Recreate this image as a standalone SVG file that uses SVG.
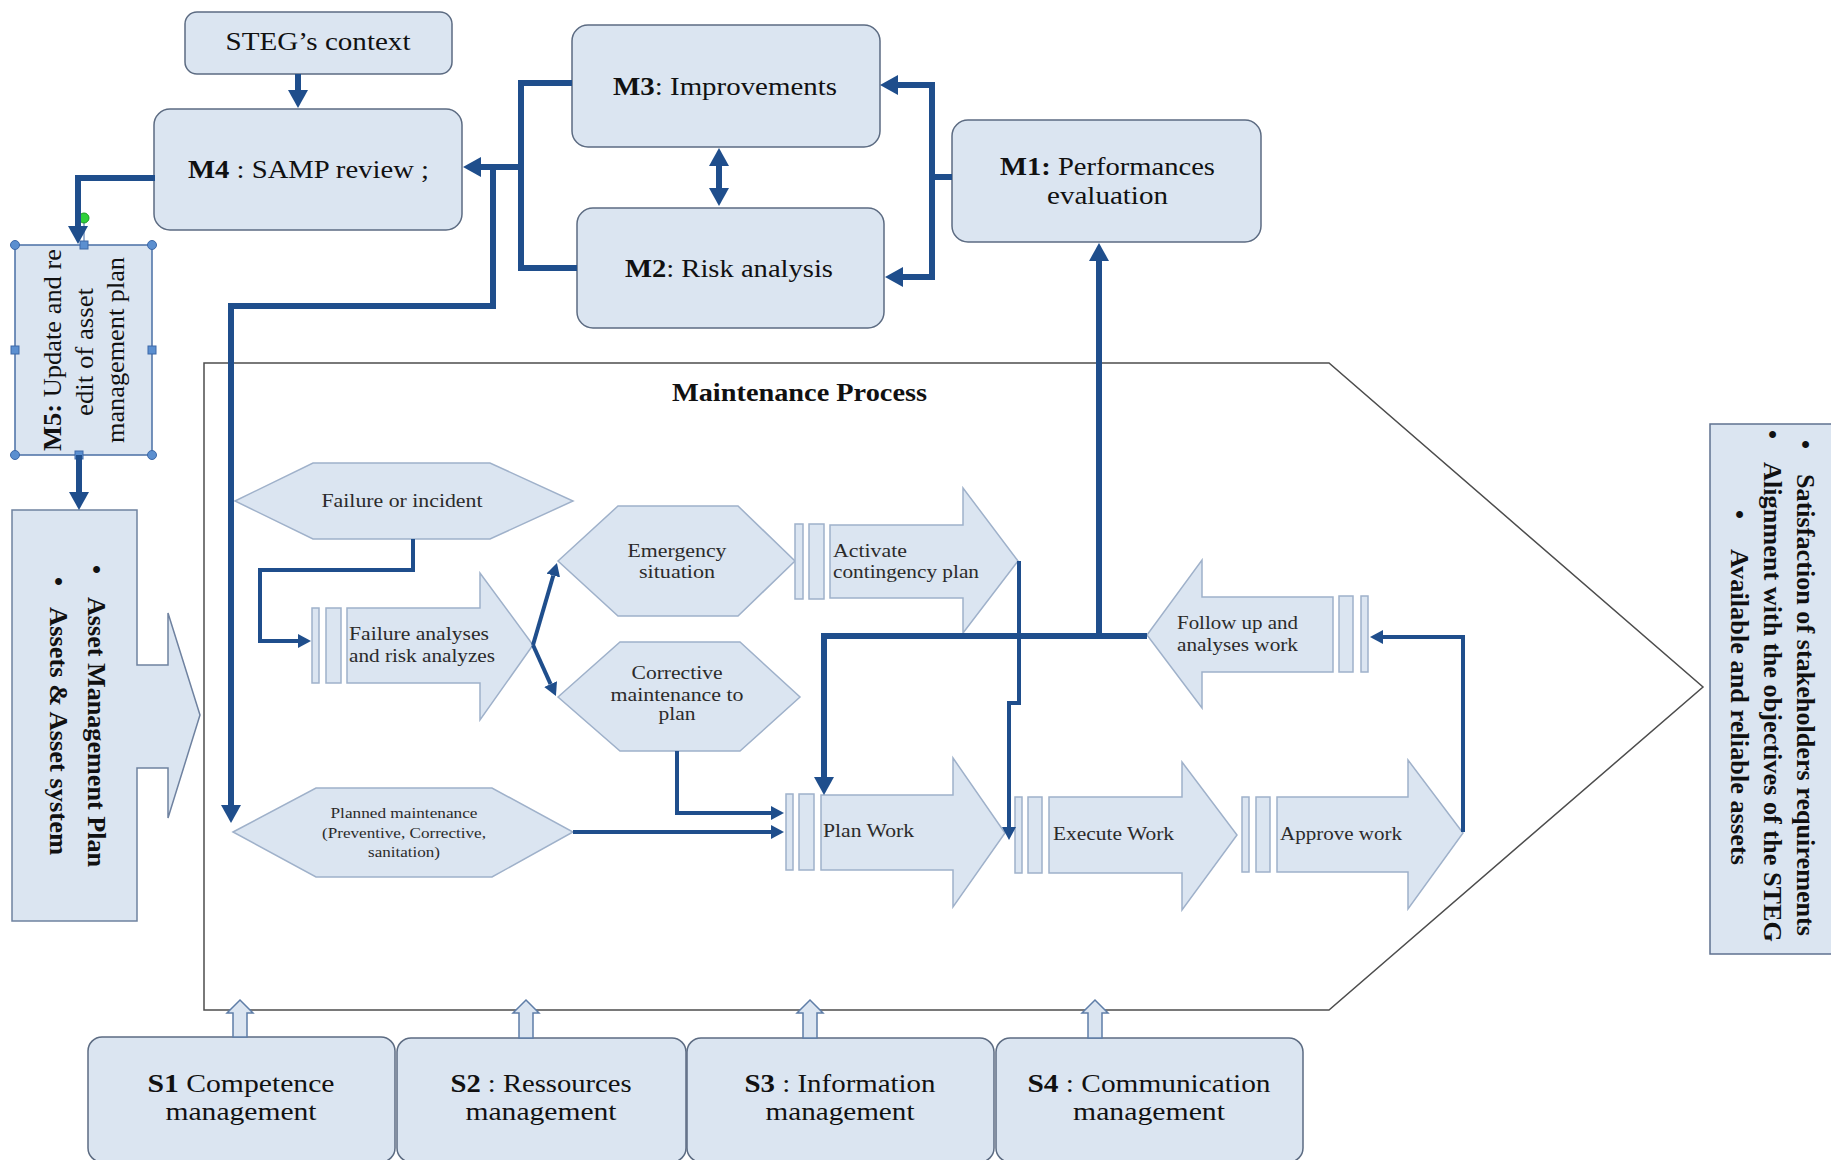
<svg xmlns="http://www.w3.org/2000/svg" width="1831" height="1160" viewBox="0 0 1831 1160">
  <style>
    .box { fill: #dbe5f1; stroke: #5c6b82; stroke-width: 1.5; }
    .shape { fill: #dbe5f1; stroke: #9fb1ca; stroke-width: 1.5; }
    .frame { fill: none; stroke: #4d4d4d; stroke-width: 1.5; }
    .c6 { fill: none; stroke: #1f4e8c; stroke-width: 6; }
    .c4 { fill: none; stroke: #1f4e8c; stroke-width: 4; }
    .t { font-family: 'Liberation Serif', 'Times New Roman', serif; font-size: 25px; fill: #111; }
    .tp { font-family: 'Liberation Serif', 'Times New Roman', serif; font-size: 19px; fill: #2b2b2b; }
    .ts { font-family: 'Liberation Serif', 'Times New Roman', serif; font-size: 15px; fill: #2b2b2b; }
    .tb { font-family: 'Liberation Serif', 'Times New Roman', serif; font-size: 26px; font-weight: bold; fill: #111; }
    .b { font-weight: bold; }
    .handle { fill: #5b8fd0; stroke: #3d68a8; stroke-width: 1; }
    .support { fill: #dbe5f1; stroke: #5f7ea8; stroke-width: 1.5; }
  </style>
  <defs>
    <marker id="ah6" markerUnits="userSpaceOnUse" markerWidth="18" markerHeight="20" viewBox="0 0 18 20" refX="0" refY="10" orient="auto-start-reverse">
      <path d="M0,0 L18,10 L0,20 Z" fill="#1f4e8c"/>
    </marker>
    <marker id="ah4" markerUnits="userSpaceOnUse" markerWidth="13" markerHeight="14" viewBox="0 0 13 14" refX="0" refY="7" orient="auto">
      <path d="M0,0 L13,7 L0,14 Z" fill="#1f4e8c"/>
    </marker>
  </defs>

  <rect width="1831" height="1160" fill="#fff"/>

  <!-- Maintenance process frame -->
  <g id="maintenance-process">
    <polygon class="frame" points="204,363 1329,363 1703,687 1329,1010 204,1010"/>
    <text class="tb" x="672" y="401" font-size="25" textLength="255" lengthAdjust="spacingAndGlyphs">Maintenance Process</text>
  </g>

  <!-- Management boxes -->
  <g id="node-steg-context">
    <rect class="box" x="185" y="12" width="267" height="62" rx="12"/>
    <text class="t" x="318" y="50" text-anchor="middle" textLength="185" lengthAdjust="spacingAndGlyphs">STEG’s context</text>
  </g>
  <g id="node-m4">
    <rect class="box" x="154" y="109" width="308" height="121" rx="16"/>
    <text class="t" x="188" y="178" textLength="241" lengthAdjust="spacingAndGlyphs"><tspan class="b">M4</tspan> : SAMP review ;</text>
  </g>
  <g id="node-m3">
    <rect class="box" x="572" y="25" width="308" height="122" rx="16"/>
    <text class="t" x="613" y="95" textLength="224" lengthAdjust="spacingAndGlyphs"><tspan class="b">M3</tspan>: Improvements</text>
  </g>
  <g id="node-m2">
    <rect class="box" x="577" y="208" width="307" height="120" rx="16"/>
    <text class="t" x="625" y="277" textLength="208" lengthAdjust="spacingAndGlyphs"><tspan class="b">M2</tspan>: Risk analysis</text>
  </g>
  <g id="node-m1">
    <rect class="box" x="952" y="120" width="309" height="122" rx="16"/>
    <text class="t" x="1000" y="175" textLength="215" lengthAdjust="spacingAndGlyphs"><tspan class="b">M1:</tspan> Performances</text>
    <text class="t" x="1047" y="204" textLength="121" lengthAdjust="spacingAndGlyphs">evaluation</text>
  </g>

  <!-- M5 text box with its selection handles -->
  <g id="node-m5">
    <rect x="15" y="245" width="137" height="210" fill="#dbe5f1" stroke="#4a6fa5" stroke-width="1.5"/>
    <g class="t" font-size="26">
      <text transform="translate(61,350) rotate(-90)" text-anchor="middle" textLength="202" lengthAdjust="spacingAndGlyphs"><tspan class="b">M5:</tspan> Update and re</text>
      <text transform="translate(93,352) rotate(-90)" text-anchor="middle" textLength="128" lengthAdjust="spacingAndGlyphs">edit of asset</text>
      <text transform="translate(124,350) rotate(-90)" text-anchor="middle" textLength="186" lengthAdjust="spacingAndGlyphs">management plan</text>
    </g>
    <line x1="84" y1="222" x2="84" y2="245" stroke="#3d68a8" stroke-width="1"/>
    <circle cx="84" cy="218" r="5" fill="#2fd13a" stroke="#1c9a26" stroke-width="1"/>
    <circle class="handle" cx="15" cy="245" r="4.5"/>
    <circle class="handle" cx="152" cy="245" r="4.5"/>
    <circle class="handle" cx="15" cy="455" r="4.5"/>
    <circle class="handle" cx="152" cy="455" r="4.5"/>
    <rect class="handle" x="80" y="241" width="8" height="8"/>
    <rect class="handle" x="75" y="451" width="8" height="8"/>
    <rect class="handle" x="11" y="346" width="8" height="8"/>
    <rect class="handle" x="148" y="346" width="8" height="8"/>
  </g>

  <!-- Asset management plan block arrow -->
  <g id="node-asset-plan">
    <polygon points="12,510 137,510 137,665 168,665 168,613 200,715 168,818 168,768 137,768 137,921 12,921" fill="#dbe5f1" stroke="#6f82a0" stroke-width="1.5"/>
    <g class="tb">
      <text transform="translate(88,565) rotate(90)">•</text>
      <text transform="translate(88,597) rotate(90)" textLength="270" lengthAdjust="spacingAndGlyphs">Asset Management Plan</text>
      <text transform="translate(50,577) rotate(90)">•</text>
      <text transform="translate(50,607) rotate(90)" textLength="248" lengthAdjust="spacingAndGlyphs">Assets &amp; Asset system</text>
    </g>
  </g>

  <!-- Expected outcomes -->
  <g id="node-outcomes">
    <rect x="1710" y="424" width="130" height="530" fill="#dbe5f1" stroke="#5f7190" stroke-width="1.5"/>
    <g class="tb">
      <text transform="translate(1797,440) rotate(90)">•</text>
      <text transform="translate(1797,474) rotate(90)" textLength="462" lengthAdjust="spacingAndGlyphs">Satisfaction of stakeholders requirements</text>
      <text transform="translate(1764,430) rotate(90)">•</text>
      <text transform="translate(1764,462) rotate(90)" textLength="480" lengthAdjust="spacingAndGlyphs">Alignment with the objectives of the STEG</text>
      <text transform="translate(1731,510) rotate(90)">•</text>
      <text transform="translate(1731,549) rotate(90)" textLength="316" lengthAdjust="spacingAndGlyphs">Available and reliable assets</text>
    </g>
  </g>

  <!-- Process events -->
  <g id="node-failure-incident">
    <polygon class="shape" points="235,501 313,463 490,463 573,501 490,539 313,539"/>
    <text class="tp" x="402" y="507" text-anchor="middle" textLength="161" lengthAdjust="spacingAndGlyphs">Failure or incident</text>
  </g>
  <g id="node-emergency">
    <polygon class="shape" points="558,561 618,506 738,506 795,561 738,616 618,616"/>
    <text class="tp" x="677" y="557" text-anchor="middle" textLength="99" lengthAdjust="spacingAndGlyphs">Emergency</text>
    <text class="tp" x="677" y="578" text-anchor="middle" textLength="76" lengthAdjust="spacingAndGlyphs">situation</text>
  </g>
  <g id="node-corrective">
    <polygon class="shape" points="558,697 620,642 740,642 800,697 740,751 620,751"/>
    <text class="tp" x="677" y="679" text-anchor="middle" textLength="91" lengthAdjust="spacingAndGlyphs">Corrective</text>
    <text class="tp" x="677" y="701" text-anchor="middle" textLength="133" lengthAdjust="spacingAndGlyphs">maintenance to</text>
    <text class="tp" x="677" y="720" text-anchor="middle" textLength="37" lengthAdjust="spacingAndGlyphs">plan</text>
  </g>
  <g id="node-planned">
    <polygon class="shape" points="233,832 316,788 492,788 573,832 492,877 316,877"/>
    <text class="ts" x="404" y="818" text-anchor="middle" textLength="147" lengthAdjust="spacingAndGlyphs">Planned maintenance</text>
    <text class="ts" x="404" y="838" text-anchor="middle" textLength="164" lengthAdjust="spacingAndGlyphs">(Preventive, Corrective,</text>
    <text class="ts" x="404" y="857" text-anchor="middle" textLength="72" lengthAdjust="spacingAndGlyphs">sanitation)</text>
  </g>

  <!-- Process steps (chevron arrows with start bars) -->
  <g id="node-failure-analyses">
    <rect class="shape" x="312" y="608" width="7" height="75"/>
    <rect class="shape" x="326" y="608" width="15" height="75"/>
    <polygon class="shape" points="347,608 480,608 480,573 533,645 480,720 480,683 347,683"/>
    <text class="tp" x="349" y="640" textLength="140" lengthAdjust="spacingAndGlyphs">Failure analyses</text>
    <text class="tp" x="349" y="662" textLength="146" lengthAdjust="spacingAndGlyphs">and risk analyzes</text>
  </g>
  <g id="node-contingency">
    <rect class="shape" x="795" y="524" width="8" height="75"/>
    <rect class="shape" x="809" y="524" width="15" height="75"/>
    <polygon class="shape" points="830,525 963,525 963,488 1018,561 963,633 963,598 830,598"/>
    <text class="tp" x="833" y="557" textLength="74" lengthAdjust="spacingAndGlyphs">Activate</text>
    <text class="tp" x="833" y="578" textLength="146" lengthAdjust="spacingAndGlyphs">contingency plan</text>
  </g>
  <g id="node-plan-work">
    <rect class="shape" x="786" y="794" width="7" height="76"/>
    <rect class="shape" x="799" y="794" width="15" height="76"/>
    <polygon class="shape" points="821,795 953,795 953,758 1005,833 953,907 953,870 821,870"/>
    <text class="tp" x="823" y="837" textLength="91" lengthAdjust="spacingAndGlyphs">Plan Work</text>
  </g>
  <g id="node-execute-work">
    <rect class="shape" x="1015" y="797" width="7" height="76"/>
    <rect class="shape" x="1028" y="797" width="14" height="76"/>
    <polygon class="shape" points="1049,797 1182,797 1182,762 1237,835 1182,910 1182,873 1049,873"/>
    <text class="tp" x="1053" y="840" textLength="121" lengthAdjust="spacingAndGlyphs">Execute Work</text>
  </g>
  <g id="node-approve-work">
    <rect class="shape" x="1242" y="797" width="7" height="75"/>
    <rect class="shape" x="1256" y="797" width="14" height="75"/>
    <polygon class="shape" points="1277,797 1408,797 1408,760 1463,833 1408,909 1408,872 1277,872"/>
    <text class="tp" x="1280" y="840" textLength="122" lengthAdjust="spacingAndGlyphs">Approve work</text>
  </g>
  <g id="node-follow-up">
    <rect class="shape" x="1361" y="596" width="7" height="76"/>
    <rect class="shape" x="1339" y="596" width="14" height="76"/>
    <polygon class="shape" points="1333,597 1202,597 1202,560 1147,635 1202,708 1202,672 1333,672"/>
    <text class="tp" x="1177" y="629" textLength="121" lengthAdjust="spacingAndGlyphs">Follow up and</text>
    <text class="tp" x="1177" y="651" textLength="121" lengthAdjust="spacingAndGlyphs">analyses work</text>
  </g>

  <!-- Support processes -->
  <g id="node-s1">
    <rect class="box" x="88" y="1037" width="307" height="125" rx="14"/>
    <text class="t" x="241" y="1092" text-anchor="middle" textLength="187" lengthAdjust="spacingAndGlyphs"><tspan class="b">S1</tspan> Competence</text>
    <text class="t" x="241" y="1120" text-anchor="middle" textLength="151" lengthAdjust="spacingAndGlyphs">management</text>
  </g>
  <g id="node-s2">
    <rect class="box" x="397" y="1038" width="289" height="124" rx="14"/>
    <text class="t" x="541" y="1092" text-anchor="middle" textLength="181" lengthAdjust="spacingAndGlyphs"><tspan class="b">S2</tspan> : Ressources</text>
    <text class="t" x="541" y="1120" text-anchor="middle" textLength="151" lengthAdjust="spacingAndGlyphs">management</text>
  </g>
  <g id="node-s3">
    <rect class="box" x="687" y="1038" width="307" height="124" rx="14"/>
    <text class="t" x="840" y="1092" text-anchor="middle" textLength="191" lengthAdjust="spacingAndGlyphs"><tspan class="b">S3</tspan> : Information</text>
    <text class="t" x="840" y="1120" text-anchor="middle" textLength="149" lengthAdjust="spacingAndGlyphs">management</text>
  </g>
  <g id="node-s4">
    <rect class="box" x="996" y="1038" width="307" height="124" rx="14"/>
    <text class="t" x="1149" y="1092" text-anchor="middle" textLength="243" lengthAdjust="spacingAndGlyphs"><tspan class="b">S4</tspan> : Communication</text>
    <text class="t" x="1149" y="1120" text-anchor="middle" textLength="152" lengthAdjust="spacingAndGlyphs">management</text>
  </g>

  <!-- Connectors -->
  <g id="connectors">
    <!-- management loop -->
    <path class="c6" d="M298,74 V90" marker-end="url(#ah6)"/>
    <path class="c6" d="M155,178 H78 V226" marker-end="url(#ah6)"/>
    <path class="c6" d="M79,455 V492" marker-end="url(#ah6)"/>
    <path class="c6" d="M952,177 H932"/>
    <path class="c6" d="M932,177 V85 H898" marker-end="url(#ah6)"/>
    <path class="c6" d="M932,177 V277 H903" marker-end="url(#ah6)"/>
    <path class="c6" d="M572,83 H521 V268 H577"/>
    <path class="c6" d="M521,167 H481" marker-end="url(#ah6)"/>
    <path class="c6" d="M493,167 V306 H231 V805" marker-end="url(#ah6)"/>
    <path class="c6" d="M719,166 V188" marker-start="url(#ah6)" marker-end="url(#ah6)"/>
    <!-- performance feedback -->
    <path class="c6" d="M1099,636 V261" marker-end="url(#ah6)"/>
    <path class="c6" d="M1147,636 H824 V777" marker-end="url(#ah6)"/>
    <!-- maintenance flow -->
    <path class="c4" d="M413,539 V570 H260 V641 H298" marker-end="url(#ah4)"/>
    <path class="c4" d="M533,645 L553.3,575.5" marker-end="url(#ah4)"/>
    <path class="c4" d="M533,645 L550.6,684.1" marker-end="url(#ah4)"/>
    <path class="c4" d="M677,751 V813 H771" marker-end="url(#ah4)"/>
    <path class="c4" d="M573,832 H771" marker-end="url(#ah4)"/>
    <path class="c4" d="M1019,561 V703 H1009 V827" marker-end="url(#ah4)"/>
    <path class="c4" d="M1463,832 V637 H1383" marker-end="url(#ah4)"/>
    <!-- support inputs -->
    <polygon class="support" points="233,1037 233,1013 227,1013 240,1000 253,1013 247,1013 247,1037"/>
    <polygon class="support" points="519,1038 519,1013 513,1013 526,1000 539,1013 533,1013 533,1038"/>
    <polygon class="support" points="803,1038 803,1013 797,1013 810,1000 823,1013 817,1013 817,1038"/>
    <polygon class="support" points="1088,1038 1088,1013 1082,1013 1095,1000 1108,1013 1102,1013 1102,1038"/>
  </g>
</svg>
